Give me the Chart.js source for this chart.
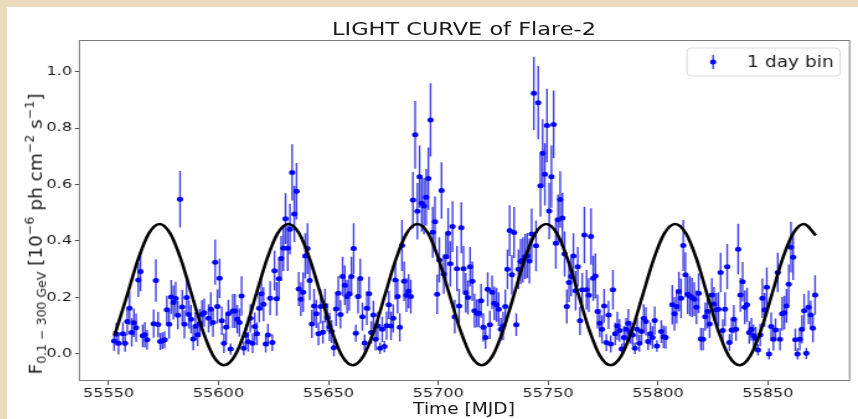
<!DOCTYPE html>
<html><head><meta charset="utf-8">
<script src="https://cdn.jsdelivr.net/npm/chart.js@4/dist/chart.umd.min.js"></script>
<style>
html,body{margin:0;padding:0;}
body{width:858px;height:419px;background:#ecdcbf;position:relative;overflow:hidden;font-family:"DejaVu Sans",sans-serif;color:#1a1a1a;}
#fig{position:absolute;left:7px;top:7px;width:851px;height:412px;background:#fff;overflow:hidden;}
#wrap{position:absolute;left:0;top:0;width:686px;height:412px;transform:scaleX(1.2405);transform-origin:0 0;}
.t{position:absolute;white-space:nowrap;line-height:1;}
#title{left:464px;top:30px;font-size:17.4px;transform:translate(-50%,-50%) scaleX(1.29);}
#xt{left:464px;top:409px;font-size:15px;transform:translate(-50%,-50%) scaleX(1.24);}
#yt{left:36px;top:234px;font-size:18.5px;transform:translate(-50%,-50%) rotate(-90deg);}
#yt sub{font-size:12.5px;vertical-align:-4px;}
#yt sup{font-size:12.5px;vertical-align:8px;}
</style></head>
<body>
<div id="fig"><div id="wrap"><canvas id="c" width="686" height="412"></canvas></div></div>
<div class="t" id="title">LIGHT CURVE of Flare-2</div>
<div class="t" id="xt">Time [MJD]</div>
<div class="t" id="yt">F<sub>0.1 − 300 GeV</sub> [10<sup>−6</sup> ph cm<sup>−2</sup> s<sup>−1</sup>]</div>
<script>
// day bins: MJD = MJD0 + dayOffset
const MJD0 = 55550.5;
const dayOffset = [2,3,4,6,7,8,9,10,11,12,13,14,15,16,17,20,21,22,23,24,25,26,27,28,29,30,31,32,33,34,35,36,37,38,39,40,41,42,43,45,46,47,48,49,50,51,52,53,54,55,56,57,58,59,60,61,62,63,64,65,66,67,68,69,70,71,72,73,74,75,76,77,78,79,80,81,82,83,84,85,86,87,88,89,90,91,92,93,94,95,96,97,98,99,100,101,102,103,104,105,106,107,108,109,110,111,112,113,114,115,116,117,118,119,120,121,122,123,124,125,126,127,128,129,130,131,132,133,134,135,136,137,138,139,140,141,142,143,144,145,146,147,148,149,150,151,152,153,154,155,156,157,158,159,160,161,162,163,164,165,166,167,168,169,170,171,172,173,174,175,176,177,178,179,180,181,182,183,184,185,186,187,188,189,190,191,192,193,194,195,196,197,198,199,200,201,202,203,204,205,206,207,208,209,210,211,212,213,214,215,216,217,218,219,220,221,222,223,224,225,226,227,228,229,230,231,232,233,234,235,236,237,238,239,240,241,242,243,244,245,246,247,248,249,251,252,253,256,257,258,259,260,261,262,263,264,265,266,267,268,269,270,271,272,273,274,275,276,277,278,279,280,281,282,283,284,285,286,287,288,289,290,291,292,293,294,295,296,297,298,299,300,301,302,303,304,305,306,307,308,309,310,311,312,313,314,315,316,317,318,319,320,321];
const flux = [0.046,0.070,0.038,0.071,0.038,0.115,0.162,0.076,0.110,0.093,0.262,0.292,0.064,0.068,0.050,0.107,0.260,0.104,0.044,0.047,0.050,0.156,0.105,0.202,0.182,0.196,0.137,0.548,0.166,0.105,0.200,0.140,0.123,0.053,0.098,0.068,0.109,0.140,0.146,0.126,0.158,0.111,0.325,0.168,0.268,0.117,0.038,0.094,0.142,0.017,0.152,0.152,0.123,0.111,0.205,0.020,0.066,0.043,0.126,0.038,0.097,0.071,0.162,0.213,0.176,0.035,0.067,0.197,0.040,0.295,0.195,0.266,0.338,0.374,0.479,0.374,0.442,0.643,0.496,0.576,0.230,0.194,0.218,0.347,0.373,0.260,0.106,0.170,0.142,0.071,0.168,0.077,0.171,0.129,0.096,0.079,0.022,0.159,0.215,0.140,0.274,0.243,0.203,0.213,0.274,0.373,0.073,0.203,0.267,0.132,0.039,0.162,0.213,0.076,0.138,0.052,0.099,0.020,0.087,0.026,0.100,0.174,0.099,0.126,0.262,0.203,0.094,0.384,0.257,0.208,0.222,0.203,0.545,0.776,0.505,0.628,0.534,0.524,0.555,0.621,0.829,0.431,0.468,0.211,0.333,0.579,0.283,0.344,0.427,0.319,0.451,0.132,0.302,0.170,0.447,0.302,0.217,0.200,0.309,0.257,0.153,0.144,0.144,0.188,0.094,0.058,0.229,0.103,0.218,0.179,0.174,0.158,0.087,0.099,0.168,0.300,0.437,0.280,0.430,0.103,0.300,0.327,0.333,0.345,0.348,0.329,0.425,0.923,0.383,0.890,0.596,0.711,0.636,0.809,0.506,0.628,0.813,0.392,0.475,0.547,0.481,0.354,0.168,0.253,0.274,0.347,0.224,0.309,0.117,0.227,0.421,0.227,0.208,0.416,0.268,0.276,0.150,0.109,0.087,0.170,0.040,0.138,0.035,0.227,0.071,0.099,0.083,0.017,0.058,0.087,0.109,0.076,0.067,0.020,0.087,0.038,0.079,0.126,0.115,0.044,0.071,0.058,0.118,0.028,0.079,0.061,0.058,0.174,0.142,0.168,0.221,0.197,0.384,0.280,0.211,0.205,0.200,0.194,0.165,0.215,0.053,0.052,0.132,0.150,0.106,0.209,0.177,0.156,0.158,0.288,0.083,0.158,0.309,0.040,0.085,0.123,0.087,0.371,0.209,0.256,0.165,0.174,0.076,0.087,0.064,0.055,0.014,0.067,0.197,0.156,0.236,0.000,0.097,0.052,0.085,0.288,0.052,0.142,0.146,0.170,0.247,0.378,0.342,0.050,0.000,0.052,0.087,0.153,0.002,0.165,0.138,0.091,0.209];
const fluxErr = [0.035,0.040,0.040,0.040,0.030,0.050,0.060,0.050,0.050,0.050,0.060,0.070,0.040,0.045,0.035,0.050,0.075,0.045,0.030,0.030,0.030,0.050,0.050,0.060,0.060,0.060,0.050,0.100,0.060,0.050,0.060,0.050,0.050,0.040,0.050,0.040,0.050,0.050,0.050,0.050,0.060,0.050,0.080,0.060,0.070,0.050,0.035,0.050,0.050,0.020,0.060,0.060,0.050,0.050,0.070,0.025,0.040,0.035,0.050,0.035,0.050,0.040,0.050,0.060,0.060,0.030,0.040,0.060,0.030,0.070,0.060,0.070,0.080,0.080,0.090,0.080,0.090,0.100,0.100,0.100,0.060,0.060,0.070,0.080,0.090,0.070,0.050,0.060,0.050,0.040,0.060,0.040,0.060,0.050,0.050,0.040,0.030,0.060,0.060,0.050,0.070,0.070,0.060,0.060,0.070,0.090,0.030,0.060,0.070,0.050,0.030,0.060,0.060,0.040,0.050,0.040,0.050,0.020,0.045,0.020,0.050,0.050,0.050,0.050,0.070,0.060,0.050,0.090,0.070,0.060,0.060,0.060,0.100,0.120,0.100,0.110,0.100,0.100,0.100,0.110,0.130,0.090,0.090,0.070,0.080,0.100,0.070,0.080,0.090,0.080,0.090,0.060,0.080,0.060,0.090,0.080,0.070,0.060,0.070,0.070,0.060,0.050,0.050,0.060,0.050,0.040,0.060,0.050,0.060,0.060,0.060,0.060,0.040,0.050,0.060,0.070,0.090,0.070,0.090,0.040,0.070,0.080,0.080,0.080,0.080,0.080,0.090,0.130,0.090,0.130,0.110,0.120,0.110,0.130,0.100,0.110,0.120,0.090,0.090,0.100,0.090,0.080,0.060,0.070,0.070,0.080,0.070,0.070,0.050,0.060,0.100,0.070,0.060,0.100,0.080,0.080,0.060,0.050,0.050,0.060,0.030,0.050,0.030,0.070,0.040,0.050,0.040,0.020,0.040,0.040,0.050,0.040,0.040,0.020,0.040,0.030,0.040,0.050,0.050,0.030,0.040,0.040,0.050,0.020,0.040,0.040,0.040,0.070,0.060,0.060,0.070,0.070,0.090,0.080,0.070,0.070,0.070,0.060,0.060,0.070,0.040,0.040,0.050,0.060,0.050,0.060,0.060,0.060,0.060,0.070,0.040,0.060,0.080,0.030,0.040,0.050,0.040,0.090,0.060,0.070,0.060,0.060,0.040,0.040,0.040,0.040,0.020,0.040,0.070,0.060,0.070,0.020,0.050,0.040,0.040,0.070,0.040,0.060,0.060,0.060,0.070,0.090,0.080,0.040,0.020,0.040,0.050,0.060,0.020,0.060,0.050,0.050,0.070];
// fitted periodic curve
const curveMJD = [55552.7,55558.5,55563.4,55568.3,55573.2,55578.0,55582.9,55587.8,55592.7,55597.6,55602.5,55607.4,55612.3,55617.1,55622.0,55626.9,55631.8,55636.7,55641.6,55646.5,55651.4,55656.2,55661.1,55666.0,55670.9,55675.8,55680.7,55685.6,55690.5,55695.4,55700.2,55705.1,55710.0,55714.9,55719.8,55724.7,55729.6,55734.5,55739.3,55744.2,55749.1,55754.0,55758.9,55763.8,55768.7,55773.6,55778.4,55783.3,55788.2,55793.1,55798.0,55802.9,55807.8,55812.7,55817.6,55822.4,55827.3,55832.2,55837.1,55842.0,55846.9,55851.8,55856.6,55861.5,55866.4,55871.8];
const curveFlux = [0.065,0.210,0.335,0.427,0.460,0.427,0.335,0.210,0.085,-0.007,-0.040,-0.007,0.085,0.210,0.335,0.427,0.460,0.427,0.335,0.210,0.085,-0.007,-0.040,-0.007,0.085,0.210,0.335,0.427,0.460,0.427,0.335,0.210,0.085,-0.007,-0.040,-0.007,0.085,0.210,0.335,0.427,0.460,0.427,0.335,0.210,0.085,-0.007,-0.040,-0.007,0.085,0.210,0.335,0.427,0.460,0.427,0.335,0.210,0.085,-0.007,-0.040,-0.007,0.085,0.210,0.335,0.427,0.460,0.420];
const xTicks = [55550,55600,55650,55700,55750,55800,55850];
const yTicks = [0.0,0.2,0.4,0.6,0.8,1.0];
const legendLabel = "1 day bin";

const pts = dayOffset.map((d,i)=>({x:MJD0+d, y:flux[i]}));
const bars = [];
dayOffset.forEach((d,i)=>{
  bars.push({x:MJD0+d, y:flux[i]-fluxErr[i]});
  bars.push({x:MJD0+d, y:flux[i]+fluxErr[i]});
  bars.push({x:MJD0+d, y:null});
});
const curve = curveMJD.map((x,i)=>({x, y:curveFlux[i]}));

const FONT = {family:"DejaVu Sans", size:13};
const frameAndLegend = {
  id:'frameAndLegend',
  afterDraw(chart){
    const {ctx, chartArea:a} = chart;
    ctx.save();
    ctx.strokeStyle = '#7a7a7a'; ctx.lineWidth = 1;
    ctx.strokeRect(a.left+0.4, Math.round(a.top)+0.5, a.right-a.left-0.8, Math.round(a.bottom-a.top)-1);
    // legend box
    const bw = 123.3, bx = a.right-8.1-bw, by = a.top+8, bh = 28, r = 3.5;
    ctx.beginPath();
    ctx.moveTo(bx+r,by); ctx.lineTo(bx+bw-r,by); ctx.quadraticCurveTo(bx+bw,by,bx+bw,by+r);
    ctx.lineTo(bx+bw,by+bh-r); ctx.quadraticCurveTo(bx+bw,by+bh,bx+bw-r,by+bh);
    ctx.lineTo(bx+r,by+bh); ctx.quadraticCurveTo(bx,by+bh,bx,by+bh-r);
    ctx.lineTo(bx,by+r); ctx.quadraticCurveTo(bx,by,bx+r,by); ctx.closePath();
    ctx.fillStyle = 'rgba(255,255,255,0.85)'; ctx.fill();
    ctx.strokeStyle = '#d6d6d6'; ctx.lineWidth = 0.9; ctx.stroke();
    const mx = bx+21, my = by+bh/2;
    ctx.strokeStyle = 'rgba(0,0,220,0.75)'; ctx.lineWidth = 1.4;
    ctx.beginPath(); ctx.moveTo(mx,my-7); ctx.lineTo(mx,my+7); ctx.stroke();
    ctx.fillStyle = '#0000ff'; ctx.beginPath(); ctx.arc(mx,my,2.5,0,Math.PI*2); ctx.fill();
    ctx.fillStyle = '#1a1a1a'; ctx.font = '15px "DejaVu Sans"'; ctx.textBaseline = 'middle'; ctx.textAlign='left';
    ctx.fillText(legendLabel, bx+48.4, my+1);
    ctx.restore();
  }
};

new Chart(document.getElementById('c'), {
  type:'scatter',
  data:{datasets:[
    {label:'fit', data:curve, showLine:true, borderColor:'#000', borderWidth:2.6, pointRadius:0, cubicInterpolationMode:'monotone', fill:false},
    {label:legendLabel, data:pts, showLine:false, pointRadius:2.5, pointBackgroundColor:'#0000ff', pointBorderWidth:0, backgroundColor:'#0000ff'},
    {label:'err', data:bars, showLine:true, spanGaps:false, borderColor:'rgba(0,0,220,0.75)', borderWidth:1.4, pointRadius:0, fill:false}
  ]},
  options:{
    responsive:false, animation:false, devicePixelRatio:1,
    layout:{padding:{top:33,right:6.4,left:0,bottom:0}},
    plugins:{legend:{display:false}, tooltip:{enabled:false}},
    scales:{
      x:{type:'linear', min:55536.5, max:55887.4,
        afterBuildTicks(s){ s.ticks = xTicks.map(v=>({value:v})); },
        afterFit(s){ s.height = 38; },
        border:{display:false},
        grid:{drawOnChartArea:false, drawTicks:true, tickLength:4, color:'#555'},
        ticks:{font:FONT, color:'#1a1a1a', padding:1, maxRotation:0, autoSkip:false, callback:v=>String(v)}},
      y:{type:'linear', min:-0.096, max:1.112,
        afterBuildTicks(s){ s.ticks = yTicks.map(v=>({value:v})); },
        afterFit(s){ s.width = 58; },
        border:{display:false},
        grid:{drawOnChartArea:false, drawTicks:true, tickLength:3.2, color:'#555'},
        ticks:{font:FONT, color:'#1a1a1a', padding:2.4, callback:v=>Number(v).toFixed(1)}}
    }
  },
  plugins:[frameAndLegend]
});
</script>
</body></html>
